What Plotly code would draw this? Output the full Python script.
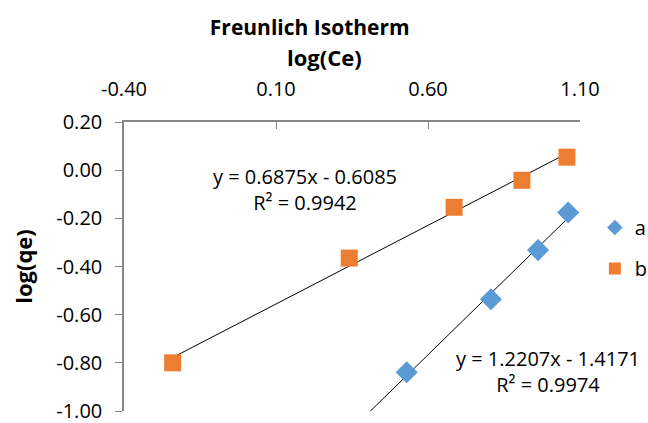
import numpy as np
import plotly.graph_objects as go

# data
a_x = [0.530, 0.807, 0.962, 1.061]
a_y = [-0.839, -0.536, -0.332, -0.176]
b_x = [-0.240, 0.341, 0.686, 0.909, 1.057]
b_y = [-0.800, -0.365, -0.154, -0.042, 0.054]

a_eq = "y = 1.2207x - 1.4171<br>R² = 0.9974"
b_eq = "y = 0.6875x - 0.6085<br>R² = 0.9942"

x_ticks = [-0.40, 0.10, 0.60, 1.10]
x_ticktext = ["-0.40", "0.10", "0.60", "1.10"]
y_ticks = [0.20, 0.00, -0.20, -0.40, -0.60, -0.80, -1.00]
y_ticktext = ["0.20", "0.00", "-0.20", "-0.40", "-0.60", "-0.80", "-1.00"]

FONT = "Open Sans"
BLUE = "#5B9BD5"
ORANGE = "#ED7D31"

fig = go.Figure()

# trendlines (least squares)
ka, ca = np.polyfit(a_x, a_y, 1)
ax_line = np.array([min(a_x) - 0.25, max(a_x)])
fig.add_trace(go.Scatter(x=ax_line, y=ka * ax_line + ca, mode="lines",
                         line=dict(color="black", width=1), showlegend=False,
                         hoverinfo="skip"))
kb, cb = np.polyfit(b_x, b_y, 1)
bx_line = np.array([min(b_x), max(b_x)])
fig.add_trace(go.Scatter(x=bx_line, y=kb * bx_line + cb, mode="lines",
                         line=dict(color="black", width=1), showlegend=False,
                         hoverinfo="skip"))

fig.add_trace(go.Scatter(x=a_x, y=a_y, mode="markers", name="a",
                         legendgroup="a",
                         marker=dict(symbol="diamond", size=17, color=BLUE)))
fig.add_trace(go.Scatter(x=b_x, y=b_y, mode="markers", name="b",
                         legendgroup="b",
                         marker=dict(symbol="square", size=17, color=ORANGE)))

fig.add_annotation(x=0.197, y=-0.081, xref="x", yref="y", text=b_eq,
                   showarrow=False, align="center",
                   font=dict(family=FONT, size=20, color="black"))
fig.add_annotation(x=0.994, y=-0.837, xref="x", yref="y", text=a_eq,
                   showarrow=False, align="center",
                   font=dict(family=FONT, size=20, color="black"))
# x-axis title (placed slightly left of centre, as in the reference)
fig.add_annotation(x=0.4386, y=1.225, xref="paper", yref="paper",
                   text="<b>log(Ce)</b>", showarrow=False,
                   xanchor="center", yanchor="middle",
                   font=dict(family=FONT, size=22, color="black"))

fig.update_layout(
    width=648, height=423,
    margin=dict(l=124, r=68, t=122, b=12, autoexpand=False),
    paper_bgcolor="white", plot_bgcolor="white",
    font=dict(family=FONT, size=20, color="black"),
    title=dict(text="<b>Freunlich Isotherm</b>", x=0.478, xanchor="center",
               y=1 - 28 / 423, yanchor="middle",
               font=dict(family=FONT, size=21, color="black")),
    legend=dict(xref="container", yref="container", x=0.918, y=1 - 208 / 423,
                xanchor="left", yanchor="top",
                font=dict(family=FONT, size=20), tracegroupgap=12,
                itemsizing="constant", bgcolor="rgba(0,0,0,0)"),
    showlegend=True,
)
fig.update_xaxes(
    range=[-0.40, 1.10], side="top", tickvals=x_ticks, ticktext=x_ticktext,
    showgrid=False, zeroline=False, showline=True, linecolor="#868686",
    linewidth=1.5, ticks="inside", ticklen=7, tickcolor="#868686",
    tickfont=dict(family=FONT, size=20), automargin=False,
    ticklabelstandoff=16, ticklabeloverflow="allow",
)
fig.update_yaxes(
    range=[-1.00, 0.20], tickvals=y_ticks, ticktext=y_ticktext,
    showgrid=False, zeroline=False, showline=True, linecolor="#868686",
    linewidth=1.5, ticks="outside", ticklen=7, tickcolor="#868686",
    tickfont=dict(family=FONT, size=20), automargin=False,
    ticklabelstandoff=9, ticklabeloverflow="allow",
    title=dict(text="<b>log(qe)</b>", font=dict(family=FONT, size=22),
               standoff=18),
)

fig.write_html("out.html", config={"displayModeBar": False},
               post_script="document.body.style.margin='0';"
                           "document.body.style.overflow='hidden';")
